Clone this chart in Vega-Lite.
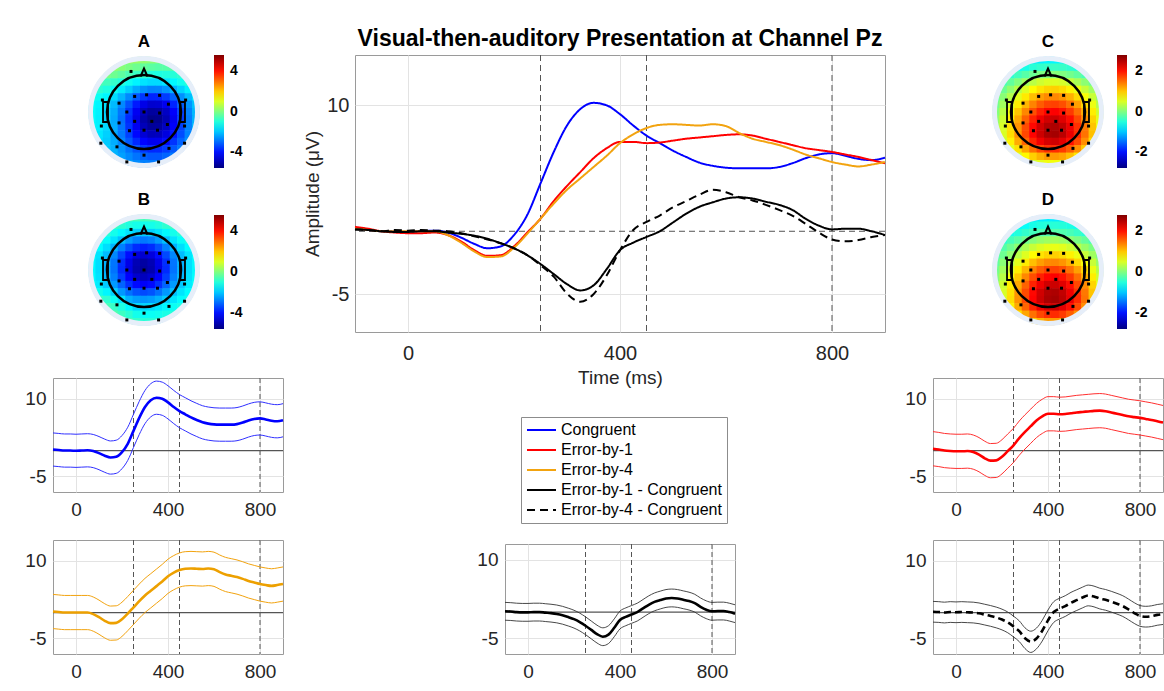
{
"$schema":"https://vega.github.io/schema/vega-lite/v6.json",
"background":"white",
"padding":{"left":24,"top":27,"right":0,"bottom":0},
"config":{"font":"Liberation Sans","view":{"stroke":"#9a9a9a","strokeWidth":1},
"axis":{"labelFontSize":19,"labelColor":"#262626","ticks":false,"domain":false,"grid":true,"gridColor":"#e3e3e3","labelFont":"Liberation Sans","titleFont":"Liberation Sans","titleColor":"#262626","titleFontWeight":"normal"},
"title":{"font":"Liberation Sans","color":"#000"},"legend":{"labelFont":"Liberation Sans"}},
"datasets":{
"ts":[
{"t":-100,"c":0.2,"e1":0.35,"e4":0.2,"d1":0.15,"d4":0.15,"cl":-3.0,"ch":3.4,"e1l":-2.95,"e1h":3.65,"e4l":-3.1,"e4h":3.5,"d1l":-1.55,"d1h":1.85,"d4l":-1.85,"d4h":2.15},
{"t":-75,"c":0.1,"e1":0.2,"e4":0.1,"d1":0.1,"d4":0.1,"cl":-3.1,"ch":3.3,"e1l":-3.1,"e1h":3.5,"e4l":-3.2,"e4h":3.4,"d1l":-1.6,"d1h":1.8,"d4l":-1.9,"d4h":2.1},
{"t":-50,"c":0,"e1":0,"e4":0,"d1":0,"d4":0,"cl":-3.2,"ch":3.2,"e1l":-3.3,"e1h":3.3,"e4l":-3.3,"e4h":3.3,"d1l":-1.7,"d1h":1.7,"d4l":-2,"d4h":2},
{"t":-25,"c":0,"e1":-0.1,"e4":0,"d1":-0.05,"d4":0.1,"cl":-3.2,"ch":3.2,"e1l":-3.4,"e1h":3.2,"e4l":-3.3,"e4h":3.3,"d1l":-1.75,"d1h":1.65,"d4l":-1.9,"d4h":2.1},
{"t":0,"c":-0.05,"e1":-0.15,"e4":0,"d1":-0.05,"d4":0.05,"cl":-3.25,"ch":3.15,"e1l":-3.45,"e1h":3.15,"e4l":-3.3,"e4h":3.3,"d1l":-1.75,"d1h":1.65,"d4l":-1.95,"d4h":2.05},
{"t":25,"c":0,"e1":-0.15,"e4":0,"d1":0,"d4":0.1,"cl":-3.2,"ch":3.2,"e1l":-3.45,"e1h":3.15,"e4l":-3.3,"e4h":3.3,"d1l":-1.7,"d1h":1.7,"d4l":-1.9,"d4h":2.1},
{"t":50,"c":0.05,"e1":-0.1,"e4":0,"d1":0,"d4":0.05,"cl":-3.15,"ch":3.25,"e1l":-3.4,"e1h":3.2,"e4l":-3.3,"e4h":3.3,"d1l":-1.7,"d1h":1.7,"d4l":-1.95,"d4h":2.05},
{"t":75,"c":-0.1,"e1":-0.3,"e4":-0.3,"d1":-0.1,"d4":0,"cl":-3.3,"ch":3.1,"e1l":-3.6,"e1h":3.0,"e4l":-3.6,"e4h":3.0,"d1l":-1.8,"d1h":1.6,"d4l":-2,"d4h":2},
{"t":100,"c":-0.5,"e1":-0.8,"e4":-0.9,"d1":-0.2,"d4":-0.15,"cl":-3.7,"ch":2.7,"e1l":-4.1,"e1h":2.5,"e4l":-4.2,"e4h":2.4,"d1l":-1.9,"d1h":1.5,"d4l":-2.15,"d4h":1.85},
{"t":125,"c":-1.0,"e1":-1.5,"e4":-1.6,"d1":-0.35,"d4":-0.4,"cl":-4.2,"ch":2.2,"e1l":-4.8,"e1h":1.8,"e4l":-4.9,"e4h":1.7,"d1l":-2.05,"d1h":1.35,"d4l":-2.4,"d4h":1.6},
{"t":150,"c":-1.35,"e1":-1.95,"e4":-2.05,"d1":-0.6,"d4":-0.65,"cl":-4.55,"ch":1.85,"e1l":-5.25,"e1h":1.35,"e4l":-5.35,"e4h":1.25,"d1l":-2.3,"d1h":1.1,"d4l":-2.65,"d4h":1.35},
{"t":175,"c":-1.2,"e1":-1.9,"e4":-2.0,"d1":-0.95,"d4":-0.95,"cl":-4.4,"ch":2.0,"e1l":-5.2,"e1h":1.4,"e4l":-5.3,"e4h":1.3,"d1l":-2.65,"d1h":0.75,"d4l":-2.95,"d4h":1.05},
{"t":200,"c":-0.3,"e1":-1.2,"e4":-1.3,"d1":-1.35,"d4":-1.35,"cl":-3.5,"ch":2.9,"e1l":-4.5,"e1h":2.1,"e4l":-4.6,"e4h":2.0,"d1l":-3.05,"d1h":0.35,"d4l":-3.35,"d4h":0.65},
{"t":225,"c":1.3,"e1":-0.1,"e4":-0.2,"d1":-1.9,"d4":-1.9,"cl":-1.9,"ch":4.5,"e1l":-3.4,"e1h":3.2,"e4l":-3.5,"e4h":3.1,"d1l":-3.6,"d1h":-0.2,"d4l":-3.9,"d4h":0.1},
{"t":250,"c":3.8,"e1":1.0,"e4":1.0,"d1":-2.6,"d4":-2.7,"cl":0.6,"ch":7.0,"e1l":-2.3,"e1h":4.3,"e4l":-2.3,"e4h":4.3,"d1l":-4.3,"d1h":-0.9,"d4l":-4.7,"d4h":-0.7},
{"t":275,"c":6.3,"e1":2.4,"e4":2.2,"d1":-3.4,"d4":-3.6,"cl":3.1,"ch":9.5,"e1l":-0.9,"e1h":5.7,"e4l":-1.1,"e4h":5.5,"d1l":-5.1,"d1h":-1.7,"d4l":-5.6,"d4h":-1.6},
{"t":300,"c":8.4,"e1":3.6,"e4":3.3,"d1":-4.2,"d4":-4.95,"cl":5.2,"ch":11.6,"e1l":0.3,"e1h":6.9,"e4l":0.0,"e4h":6.6,"d1l":-5.9,"d1h":-2.5,"d4l":-6.95,"d4h":-2.95},
{"t":325,"c":9.7,"e1":4.7,"e4":4.2,"d1":-4.7,"d4":-5.6,"cl":6.5,"ch":12.9,"e1l":1.4,"e1h":8.0,"e4l":0.9,"e4h":7.5,"d1l":-6.4,"d1h":-3.0,"d4l":-7.7,"d4h":-3.6},
{"t":350,"c":10.2,"e1":5.8,"e4":5.1,"d1":-4.3,"d4":-5.0,"cl":7.0,"ch":13.4,"e1l":2.5,"e1h":9.1,"e4l":1.8,"e4h":8.4,"d1l":-6.0,"d1h":-2.6,"d4l":-7.0,"d4h":-3.0},
{"t":375,"c":10.0,"e1":6.6,"e4":6.0,"d1":-3.0,"d4":-3.5,"cl":6.8,"ch":13.2,"e1l":3.3,"e1h":9.9,"e4l":2.7,"e4h":9.3,"d1l":-4.7,"d1h":-1.3,"d4l":-5.5,"d4h":-1.5},
{"t":400,"c":9.3,"e1":7.1,"e4":7.0,"d1":-1.5,"d4":-1.5,"cl":6.1,"ch":12.5,"e1l":3.8,"e1h":10.4,"e4l":3.7,"e4h":10.3,"d1l":-3.2,"d1h":0.2,"d4l":-3.5,"d4h":0.5},
{"t":425,"c":8.4,"e1":7.1,"e4":7.7,"d1":-0.9,"d4":0.1,"cl":5.2,"ch":11.6,"e1l":3.8,"e1h":10.4,"e4l":4.4,"e4h":11.0,"d1l":-2.6,"d1h":0.8,"d4l":-1.9,"d4h":2.1},
{"t":450,"c":7.6,"e1":7.0,"e4":8.2,"d1":-0.45,"d4":0.75,"cl":4.4,"ch":10.8,"e1l":3.7,"e1h":10.3,"e4l":4.9,"e4h":11.5,"d1l":-2.15,"d1h":1.25,"d4l":-1.25,"d4h":2.75},
{"t":475,"c":7.0,"e1":7.05,"e4":8.45,"d1":0.0,"d4":1.25,"cl":3.8,"ch":10.2,"e1l":3.75,"e1h":10.35,"e4l":5.15,"e4h":11.75,"d1l":-1.7,"d1h":1.7,"d4l":-0.75,"d4h":3.25},
{"t":500,"c":6.4,"e1":7.2,"e4":8.5,"d1":0.7,"d4":1.9,"cl":3.2,"ch":9.6,"e1l":3.9,"e1h":10.5,"e4l":5.2,"e4h":11.8,"d1l":-1.0,"d1h":2.4,"d4l":-0.1,"d4h":3.9},
{"t":525,"c":5.9,"e1":7.35,"e4":8.45,"d1":1.4,"d4":2.4,"cl":2.7,"ch":9.1,"e1l":4.05,"e1h":10.65,"e4l":5.15,"e4h":11.75,"d1l":-0.3,"d1h":3.1,"d4l":0.4,"d4h":4.4},
{"t":550,"c":5.45,"e1":7.45,"e4":8.4,"d1":1.95,"d4":2.9,"cl":2.25,"ch":8.65,"e1l":4.15,"e1h":10.75,"e4l":5.1,"e4h":11.7,"d1l":0.25,"d1h":3.65,"d4l":0.9,"d4h":4.9},
{"t":575,"c":5.2,"e1":7.55,"e4":8.5,"d1":2.3,"d4":3.3,"cl":2.0,"ch":8.4,"e1l":4.25,"e1h":10.85,"e4l":5.2,"e4h":11.8,"d1l":0.6,"d1h":4.0,"d4l":1.3,"d4h":5.3},
{"t":600,"c":5.05,"e1":7.65,"e4":8.35,"d1":2.6,"d4":3.1,"cl":1.85,"ch":8.25,"e1l":4.35,"e1h":10.95,"e4l":5.05,"e4h":11.65,"d1l":0.9,"d1h":4.3,"d4l":1.1,"d4h":5.1},
{"t":625,"c":5.0,"e1":7.7,"e4":7.8,"d1":2.7,"d4":2.7,"cl":1.8,"ch":8.2,"e1l":4.4,"e1h":11.0,"e4l":4.5,"e4h":11.1,"d1l":1.0,"d1h":4.4,"d4l":0.7,"d4h":4.7},
{"t":650,"c":5.0,"e1":7.6,"e4":7.35,"d1":2.6,"d4":2.45,"cl":1.8,"ch":8.2,"e1l":4.3,"e1h":10.9,"e4l":4.05,"e4h":10.65,"d1l":0.9,"d1h":4.3,"d4l":0.45,"d4h":4.45},
{"t":675,"c":5.0,"e1":7.35,"e4":7.1,"d1":2.35,"d4":2.1,"cl":1.8,"ch":8.2,"e1l":4.05,"e1h":10.65,"e4l":3.8,"e4h":10.4,"d1l":0.65,"d1h":4.05,"d4l":0.1,"d4h":4.1},
{"t":700,"c":5.1,"e1":7.1,"e4":6.85,"d1":2.1,"d4":1.7,"cl":1.9,"ch":8.3,"e1l":3.8,"e1h":10.4,"e4l":3.55,"e4h":10.15,"d1l":0.4,"d1h":3.8,"d4l":-0.3,"d4h":3.7},
{"t":725,"c":5.4,"e1":6.85,"e4":6.5,"d1":1.7,"d4":1.25,"cl":2.2,"ch":8.6,"e1l":3.55,"e1h":10.15,"e4l":3.2,"e4h":9.8,"d1l":0.0,"d1h":3.4,"d4l":-0.75,"d4h":3.25},
{"t":750,"c":5.8,"e1":6.6,"e4":6.1,"d1":1.0,"d4":0.6,"cl":2.6,"ch":9.0,"e1l":3.3,"e1h":9.9,"e4l":2.8,"e4h":9.4,"d1l":-0.7,"d1h":2.7,"d4l":-1.4,"d4h":2.6},
{"t":775,"c":6.1,"e1":6.45,"e4":5.8,"d1":0.45,"d4":-0.1,"cl":2.9,"ch":9.3,"e1l":3.15,"e1h":9.75,"e4l":2.5,"e4h":9.1,"d1l":-1.25,"d1h":2.15,"d4l":-2.1,"d4h":1.9},
{"t":800,"c":6.2,"e1":6.3,"e4":5.5,"d1":0.15,"d4":-0.65,"cl":3.0,"ch":9.4,"e1l":3.0,"e1h":9.6,"e4l":2.2,"e4h":8.8,"d1l":-1.55,"d1h":1.85,"d4l":-2.65,"d4h":1.35},
{"t":825,"c":6.0,"e1":6.1,"e4":5.3,"d1":0.2,"d4":-0.8,"cl":2.8,"ch":9.2,"e1l":2.8,"e1h":9.4,"e4l":2.0,"e4h":8.6,"d1l":-1.5,"d1h":1.9,"d4l":-2.8,"d4h":1.2},
{"t":850,"c":5.75,"e1":5.9,"e4":5.15,"d1":0.2,"d4":-0.7,"cl":2.55,"ch":8.95,"e1l":2.6,"e1h":9.2,"e4l":1.85,"e4h":8.45,"d1l":-1.5,"d1h":1.9,"d4l":-2.7,"d4h":1.3},
{"t":875,"c":5.65,"e1":5.65,"e4":5.3,"d1":0.0,"d4":-0.45,"cl":2.45,"ch":8.85,"e1l":2.35,"e1h":8.95,"e4l":2.0,"e4h":8.6,"d1l":-1.7,"d1h":1.7,"d4l":-2.45,"d4h":1.55},
{"t":900,"c":5.85,"e1":5.4,"e4":5.5,"d1":-0.3,"d4":-0.3,"cl":2.65,"ch":9.05,"e1l":2.1,"e1h":8.7,"e4l":2.2,"e4h":8.8,"d1l":-2.0,"d1h":1.4,"d4l":-2.3,"d4h":1.7}
],
"events":[{"t":250},{"t":450},{"t":800}],
"zero":[{"v":0}],
"names":[{"k":"c","series":"Congruent"},{"k":"e1","series":"Error-by-1"},{"k":"e4","series":"Error-by-4"},{"k":"d1","series":"Error-by-1 - Congruent"},{"k":"d4","series":"Error-by-4 - Congruent"}],
"head":[{"x":0,"y":0}],
"nose":[{"x":0,"y":5.45}],
"ears":[{"x":-5.18,"y":0},{"x":5.18,"y":0}],
"labA":[{"x":0,"y":8.75,"label":"A"}],
"labB":[{"x":0,"y":8.75,"label":"B"}],
"labC":[{"x":0,"y":8.75,"label":"C"}],
"labD":[{"x":0,"y":8.75,"label":"D"}],
"elec":[{"x":-1.75,"y":5.46},{"x":-5.6,"y":1.61},{"x":-3.36,"y":1.19},{"x":-1.26,"y":2.1},{"x":0.35,"y":2.31},{"x":2.1,"y":2.24},{"x":3.29,"y":1.05},{"x":5.6,"y":1.61},{"x":-2.31,"y":0},{"x":0,"y":0},{"x":2.1,"y":-0.14},{"x":-5.74,"y":-1.89},{"x":-3.36,"y":-1.47},{"x":-1.26,"y":-1.26},{"x":1.05,"y":-1.26},{"x":3.15,"y":-1.68},{"x":5.46,"y":-1.89},{"x":-1.96,"y":-2.52},{"x":0,"y":-2.45},{"x":1.82,"y":-2.45},{"x":-5.81,"y":-4.2},{"x":-3.64,"y":-4.69},{"x":3.36,"y":-4.9},{"x":5.46,"y":-4.2},{"x":0,"y":-5.81},{"x":-2.31,"y":-6.72},{"x":1.96,"y":-6.72}],
"topoA":[
{"y":7,"x":[-2,-1,0,1,2],"v":[0.37,0.28,0.19,0.13,0.08]},
{"y":6,"x":[-4,-3,-2,-1,0,1,2,3,4],"v":[0.19,0.07,-0.06,-0.19,-0.3,-0.39,-0.44,-0.44,-0.43]},
{"y":5,"x":[-5,-4,-3,-2,-1,0,1,2,3,4,5],"v":[-0.05,-0.19,-0.36,-0.56,-0.75,-0.92,-1.05,-1.09,-1.05,-0.97,-0.88]},
{"y":4,"x":[-6,-5,-4,-3,-2,-1,0,1,2,3,4,5,6],"v":[-0.57,-0.67,-0.82,-1.02,-1.27,-1.51,-1.7,-1.8,-1.79,-1.67,-1.46,-1.22,-0.98]},
{"y":3,"x":[-6,-5,-4,-3,-2,-1,0,1,2,3,4,5,6],"v":[-0.91,-1.06,-1.28,-1.6,-1.95,-2.31,-2.61,-2.77,-2.75,-2.56,-2.25,-1.87,-1.53]},
{"y":2,"x":[-7,-6,-5,-4,-3,-2,-1,0,1,2,3,4,5,6,7],"v":[-1.14,-1.27,-1.48,-1.78,-2.2,-2.7,-3.2,-3.61,-3.83,-3.81,-3.54,-3.11,-2.6,-2.11,-1.71]},
{"y":1,"x":[-7,-6,-5,-4,-3,-2,-1,0,1,2,3,4,5,6,7],"v":[-1.34,-1.5,-1.75,-2.15,-2.68,-3.3,-3.93,-4.45,-4.73,-4.69,-4.37,-3.82,-3.18,-2.56,-2.06]},
{"y":0,"x":[-7,-6,-5,-4,-3,-2,-1,0,1,2,3,4,5,6,7],"v":[-1.37,-1.54,-1.84,-2.29,-2.9,-3.62,-4.34,-4.94,-5.26,-5.22,-4.84,-4.23,-3.48,-2.76,-2.18]},
{"y":-1,"x":[-7,-6,-5,-4,-3,-2,-1,0,1,2,3,4,5,6,7],"v":[-1.37,-1.56,-1.87,-2.34,-2.99,-3.75,-4.5,-5.14,-5.47,-5.43,-5.03,-4.36,-3.6,-2.84,-2.23]},
{"y":-2,"x":[-7,-6,-5,-4,-3,-2,-1,0,1,2,3,4,5,6,7],"v":[-1.37,-1.54,-1.84,-2.3,-2.92,-3.65,-4.37,-4.97,-5.3,-5.26,-4.88,-4.25,-3.5,-2.78,-2.19]},
{"y":-3,"x":[-6,-5,-4,-3,-2,-1,0,1,2,3,4,5,6],"v":[-1.65,-1.91,-2.32,-2.86,-3.49,-4.13,-4.65,-4.94,-4.9,-4.56,-4.01,-3.37,-2.74]},
{"y":-4,"x":[-6,-5,-4,-3,-2,-1,0,1,2,3,4,5,6],"v":[-1.75,-1.97,-2.29,-2.72,-3.23,-3.75,-4.17,-4.39,-4.36,-4.1,-3.64,-3.12,-2.62]},
{"y":-5,"x":[-5,-4,-3,-2,-1,0,1,2,3,4,5],"v":[-2.0,-2.23,-2.56,-2.93,-3.3,-3.61,-3.78,-3.76,-3.56,-3.23,-2.85]},
{"y":-6,"x":[-4,-3,-2,-1,0,1,2,3,4],"v":[-2.22,-2.43,-2.68,-2.93,-3.14,-3.25,-3.24,-3.1,-2.88]},
{"y":-7,"x":[-2,-1,0,1,2],"v":[-2.51,-2.67,-2.8,-2.86,-2.85]}
],
"topoB":[
{"y":7,"x":[-2,-1,0,1,2],"v":[-0.55,-0.62,-0.64,-0.62,-0.55]},
{"y":6,"x":[-4,-3,-2,-1,0,1,2,3,4],"v":[-0.74,-0.9,-1.05,-1.17,-1.21,-1.17,-1.05,-0.9,-0.74]},
{"y":5,"x":[-5,-4,-3,-2,-1,0,1,2,3,4,5],"v":[-0.96,-1.19,-1.45,-1.7,-1.89,-1.96,-1.89,-1.7,-1.45,-1.19,-0.96]},
{"y":4,"x":[-6,-5,-4,-3,-2,-1,0,1,2,3,4,5,6],"v":[-1.09,-1.35,-1.69,-2.09,-2.48,-2.77,-2.88,-2.77,-2.48,-2.09,-1.69,-1.35,-1.09]},
{"y":3,"x":[-6,-5,-4,-3,-2,-1,0,1,2,3,4,5,6],"v":[-1.4,-1.75,-2.23,-2.79,-3.32,-3.73,-3.87,-3.73,-3.32,-2.79,-2.23,-1.75,-1.4]},
{"y":2,"x":[-7,-6,-5,-4,-3,-2,-1,0,1,2,3,4,5,6,7],"v":[-1.4,-1.68,-2.12,-2.71,-3.41,-4.07,-4.57,-4.74,-4.57,-4.07,-3.41,-2.71,-2.12,-1.68,-1.4]},
{"y":1,"x":[-7,-6,-5,-4,-3,-2,-1,0,1,2,3,4,5,6,7],"v":[-1.44,-1.75,-2.24,-2.91,-3.7,-4.44,-5.01,-5.21,-5.01,-4.44,-3.7,-2.91,-2.24,-1.75,-1.44]},
{"y":0,"x":[-7,-6,-5,-4,-3,-2,-1,0,1,2,3,4,5,6,7],"v":[-1.44,-1.76,-2.26,-2.94,-3.74,-4.5,-5.07,-5.27,-5.07,-4.5,-3.74,-2.94,-2.26,-1.76,-1.44]},
{"y":-1,"x":[-7,-6,-5,-4,-3,-2,-1,0,1,2,3,4,5,6,7],"v":[-1.41,-1.71,-2.17,-2.79,-3.52,-4.22,-4.74,-4.93,-4.74,-4.22,-3.52,-2.79,-2.17,-1.71,-1.41]},
{"y":-2,"x":[-7,-6,-5,-4,-3,-2,-1,0,1,2,3,4,5,6,7],"v":[-1.36,-1.6,-1.98,-2.5,-3.1,-3.68,-4.11,-4.27,-4.11,-3.68,-3.1,-2.5,-1.98,-1.6,-1.36]},
{"y":-3,"x":[-6,-5,-4,-3,-2,-1,0,1,2,3,4,5,6],"v":[-1.21,-1.49,-1.88,-2.53,-2.96,-3.29,-3.41,-3.29,-2.96,-2.53,-2.08,-1.69,-1.41]},
{"y":-4,"x":[-6,-5,-4,-3,-2,-1,0,1,2,3,4,5,6],"v":[-0.71,-0.9,-1.26,-1.66,-2.25,-2.47,-2.54,-2.47,-2.25,-1.96,-1.66,-1.4,-1.21]},
{"y":-5,"x":[-5,-4,-3,-2,-1,0,1,2,3,4,5],"v":[-0.63,-0.79,-1.08,-1.45,-1.79,-1.84,-1.79,-1.65,-1.48,-1.29,-1.13]},
{"y":-6,"x":[-4,-3,-2,-1,0,1,2,3,4],"v":[-0.52,-0.72,-0.92,-1.19,-1.32,-1.29,-1.22,-1.12,-1.02]},
{"y":-7,"x":[-2,-1,0,1,2],"v":[-0.62,-0.81,-0.97,-0.96,-0.92]}
],
"topoC":[
{"y":7,"x":[-2,-1,0,1,2],"v":[-0.81,-0.77,-0.74,-0.74,-0.75]},
{"y":6,"x":[-4,-3,-2,-1,0,1,2,3,4],"v":[-0.65,-0.56,-0.48,-0.42,-0.39,-0.38,-0.4,-0.45,-0.53]},
{"y":5,"x":[-5,-4,-3,-2,-1,0,1,2,3,4,5],"v":[-0.46,-0.34,-0.22,-0.11,-0.02,0.03,0.04,0.0,-0.07,-0.17,-0.29]},
{"y":4,"x":[-6,-5,-4,-3,-2,-1,0,1,2,3,4,5,6],"v":[-0.31,-0.16,0.01,0.17,0.32,0.43,0.5,0.51,0.47,0.37,0.23,0.07,-0.09]},
{"y":3,"x":[-6,-5,-4,-3,-2,-1,0,1,2,3,4,5,6],"v":[-0.1,0.09,0.31,0.52,0.71,0.85,0.94,0.96,0.9,0.77,0.6,0.39,0.18]},
{"y":2,"x":[-7,-6,-5,-4,-3,-2,-1,0,1,2,3,4,5,6,7],"v":[-0.16,0.05,0.29,0.55,0.81,1.05,1.23,1.34,1.36,1.29,1.13,0.91,0.66,0.39,0.14]},
{"y":1,"x":[-7,-6,-5,-4,-3,-2,-1,0,1,2,3,4,5,6,7],"v":[-0.06,0.19,0.48,0.79,1.1,1.38,1.6,1.73,1.75,1.67,1.48,1.22,0.92,0.6,0.3]},
{"y":0,"x":[-7,-6,-5,-4,-3,-2,-1,0,1,2,3,4,5,6,7],"v":[0.03,0.32,0.65,1.01,1.36,1.68,1.93,2.08,2.11,2.01,1.79,1.5,1.15,0.79,0.44]},
{"y":-1,"x":[-7,-6,-5,-4,-3,-2,-1,0,1,2,3,4,5,6,7],"v":[0.11,0.42,0.78,1.17,1.56,1.92,2.19,2.36,2.38,2.27,2.04,1.71,1.33,0.93,0.56]},
{"y":-2,"x":[-7,-6,-5,-4,-3,-2,-1,0,1,2,3,4,5,6,7],"v":[0.15,0.48,0.86,1.28,1.69,2.06,2.35,2.52,2.55,2.44,2.19,1.84,1.44,1.02,0.62]},
{"y":-3,"x":[-6,-5,-4,-3,-2,-1,0,1,2,3,4,5,6],"v":[0.49,0.88,1.3,1.71,2.09,2.38,2.56,2.59,2.47,2.22,1.87,1.47,1.04]},
{"y":-4,"x":[-6,-5,-4,-3,-2,-1,0,1,2,3,4,5,6],"v":[0.41,0.77,1.16,1.55,1.9,2.17,2.33,2.36,2.25,2.02,1.7,1.32,0.92]},
{"y":-5,"x":[-5,-4,-3,-2,-1,0,1,2,3,4,5],"v":[0.53,0.86,1.19,1.48,1.71,1.85,1.87,1.78,1.59,1.31,1.0]},
{"y":-6,"x":[-4,-3,-2,-1,0,1,2,3,4],"v":[0.49,0.73,0.96,1.13,1.24,1.25,1.19,1.04,0.83]},
{"y":-7,"x":[-2,-1,0,1,2],"v":[0.44,0.56,0.63,0.64,0.59]}
],
"topoD":[
{"y":7,"x":[-2,-1,0,1,2],"v":[-0.85,-0.8,-0.78,-0.8,-0.85]},
{"y":6,"x":[-4,-3,-2,-1,0,1,2,3,4],"v":[-0.75,-0.66,-0.58,-0.52,-0.49,-0.48,-0.5,-0.55,-0.63]},
{"y":5,"x":[-5,-4,-3,-2,-1,0,1,2,3,4,5],"v":[-0.6,-0.51,-0.42,-0.34,-0.28,-0.25,-0.24,-0.26,-0.31,-0.39,-0.48]},
{"y":4,"x":[-6,-5,-4,-3,-2,-1,0,1,2,3,4,5,6],"v":[-0.45,-0.32,-0.2,-0.08,0.03,0.12,0.17,0.18,0.14,0.07,-0.03,-0.15,-0.3]},
{"y":3,"x":[-6,-5,-4,-3,-2,-1,0,1,2,3,4,5,6],"v":[-0.24,-0.09,0.08,0.24,0.39,0.5,0.57,0.58,0.54,0.44,0.3,0.14,-0.02]},
{"y":2,"x":[-7,-6,-5,-4,-3,-2,-1,0,1,2,3,4,5,6,7],"v":[-0.3,-0.1,0.09,0.31,0.52,0.71,0.85,0.94,0.96,0.9,0.77,0.6,0.39,0.18,-0.02]},
{"y":1,"x":[-7,-6,-5,-4,-3,-2,-1,0,1,2,3,4,5,6,7],"v":[-0.16,0.05,0.29,0.55,0.81,1.05,1.23,1.34,1.36,1.29,1.13,0.91,0.66,0.39,0.14]},
{"y":0,"x":[-7,-6,-5,-4,-3,-2,-1,0,1,2,3,4,5,6,7],"v":[-0.06,0.19,0.48,0.79,1.1,1.38,1.6,1.73,1.75,1.67,1.48,1.22,0.92,0.6,0.3]},
{"y":-1,"x":[-7,-6,-5,-4,-3,-2,-1,0,1,2,3,4,5,6,7],"v":[0.03,0.32,0.65,1.01,1.36,1.68,1.93,2.08,2.11,2.01,1.79,1.5,1.15,0.79,0.44]},
{"y":-2,"x":[-7,-6,-5,-4,-3,-2,-1,0,1,2,3,4,5,6,7],"v":[0.11,0.42,0.78,1.17,1.56,1.92,2.19,2.36,2.38,2.27,2.04,1.71,1.33,0.93,0.56]},
{"y":-3,"x":[-6,-5,-4,-3,-2,-1,0,1,2,3,4,5,6],"v":[0.48,0.86,1.28,1.69,2.06,2.35,2.52,2.55,2.44,2.19,1.84,1.44,1.02]},
{"y":-4,"x":[-6,-5,-4,-3,-2,-1,0,1,2,3,4,5,6],"v":[0.49,0.88,1.3,1.71,2.09,2.38,2.56,2.59,2.47,2.22,1.87,1.47,1.04]},
{"y":-5,"x":[-5,-4,-3,-2,-1,0,1,2,3,4,5],"v":[0.77,1.16,1.55,1.9,2.17,2.33,2.36,2.25,2.02,1.7,1.32]},
{"y":-6,"x":[-4,-3,-2,-1,0,1,2,3,4],"v":[0.86,1.19,1.48,1.71,1.85,1.87,1.78,1.59,1.31]},
{"y":-7,"x":[-2,-1,0,1,2],"v":[0.96,1.13,1.24,1.25,1.19]}
]
},
"spacing":14,
"resolve":{"scale":{"color":"independent","strokeDash":"independent"},"legend":{"color":"independent","strokeDash":"independent"}},
"hconcat":[
{"spacing":18,
"resolve":{"scale":{"color":"independent"},"legend":{"color":"independent"}},
"vconcat":[
{"spacing":5,
"resolve":{"scale":{"color":"independent"},"legend":{"color":"independent"}},
"vconcat":[
{"width":230,"height":122,"view":{"stroke":null},
"layer":[
{"data":{"name":"topoA"},"transform":[{"flatten":["x","v"]}],"mark":{"type":"square","size":64,"filled":true,"opacity":1},
"encoding":{"x":{"field":"x","type":"quantitative","scale":{"domain":[-12.25,18.71],"nice":false,"zero":false},"axis":null},"y":{"field":"y","type":"quantitative","scale":{"domain":[-8.75,7.673],"nice":false,"zero":false},"axis":null},
"color":{"field":"v","type":"quantitative","scale":{"domain":[-5.6,-4.2,-1.4,1.4,4.2,5.6],"range":["#00007f","#0000ff","#00ffff","#ffff00","#ff0000","#7f0000"],"interpolate":"rgb"},
"legend":{"title":null,"orient":"none","legendX":161,"legendY":0,"direction":"vertical","gradientLength":113,"gradientThickness":10,"values":[-4,0,4],"labelFontSize":14,"labelFontWeight":"bold","labelColor":"#000","labelOffset":6,"labelExpr":"datum.value","labelOverlap":false,"gradientStrokeWidth":0}}}},
{"data":{"name":"head"},"mark":{"type":"point","shape":"circle","size":13924,"filled":false,"stroke":"#ffffff","strokeWidth":7,"opacity":1},"encoding":{"x":{"field":"x","type":"quantitative","axis":null},"y":{"field":"y","type":"quantitative","axis":null}}},
{"data":{"name":"head"},"mark":{"type":"point","shape":"circle","size":11449,"filled":false,"stroke":"#e6eef9","strokeWidth":5,"opacity":1},"encoding":{"x":{"field":"x","type":"quantitative","axis":null},"y":{"field":"y","type":"quantitative","axis":null}}},
{"data":{"name":"head"},"mark":{"type":"point","shape":"circle","size":5476,"filled":false,"stroke":"#000","strokeWidth":2.5,"opacity":1},"encoding":{"x":{"field":"x","type":"quantitative","axis":null},"y":{"field":"y","type":"quantitative","axis":null}}},
{"data":{"name":"nose"},"mark":{"type":"point","shape":"M -0.7 1 L 0 -0.6 L 0.7 1","size":100,"filled":false,"stroke":"#000","strokeWidth":2,"opacity":1},"encoding":{"x":{"field":"x","type":"quantitative","axis":null},"y":{"field":"y","type":"quantitative","axis":null}}},
{"data":{"name":"ears"},"mark":{"type":"point","shape":"M -0.25 -1 L 0.25 -1 L 0.25 1 L -0.25 1 Z","size":400,"filled":false,"stroke":"#000","strokeWidth":1.8,"opacity":1},"encoding":{"x":{"field":"x","type":"quantitative","axis":null},"y":{"field":"y","type":"quantitative","axis":null}}},
{"data":{"name":"elec"},"mark":{"type":"square","size":9,"filled":true,"color":"#000","opacity":1},"encoding":{"x":{"field":"x","type":"quantitative","axis":null},"y":{"field":"y","type":"quantitative","axis":null}}},
{"data":{"name":"labA"},"mark":{"type":"text","fontSize":17,"fontWeight":"bold","baseline":"alphabetic","align":"center","color":"#000"},"encoding":{"x":{"field":"x","type":"quantitative","axis":null},"y":{"field":"y","type":"quantitative","axis":null},"text":{"field":"label"}}}
]},
{"width":230,"height":146,"view":{"stroke":null},
"layer":[
{"data":{"name":"topoB"},"transform":[{"flatten":["x","v"]}],"mark":{"type":"square","size":64,"filled":true,"opacity":1},
"encoding":{"x":{"field":"x","type":"quantitative","scale":{"domain":[-12.25,18.71],"nice":false,"zero":false},"axis":null},"y":{"field":"y","type":"quantitative","scale":{"domain":[-11.98,7.673],"nice":false,"zero":false},"axis":null},
"color":{"field":"v","type":"quantitative","scale":{"domain":[-5.6,-4.2,-1.4,1.4,4.2,5.6],"range":["#00007f","#0000ff","#00ffff","#ffff00","#ff0000","#7f0000"],"interpolate":"rgb"},
"legend":{"title":null,"orient":"none","legendX":161,"legendY":2,"direction":"vertical","gradientLength":114,"gradientThickness":10,"values":[-4,0,4],"labelFontSize":14,"labelFontWeight":"bold","labelColor":"#000","labelOffset":6,"labelExpr":"datum.value","labelOverlap":false,"gradientStrokeWidth":0}}}},
{"data":{"name":"head"},"mark":{"type":"point","shape":"circle","size":13924,"filled":false,"stroke":"#ffffff","strokeWidth":7,"opacity":1},"encoding":{"x":{"field":"x","type":"quantitative","axis":null},"y":{"field":"y","type":"quantitative","axis":null}}},
{"data":{"name":"head"},"mark":{"type":"point","shape":"circle","size":11449,"filled":false,"stroke":"#e6eef9","strokeWidth":5,"opacity":1},"encoding":{"x":{"field":"x","type":"quantitative","axis":null},"y":{"field":"y","type":"quantitative","axis":null}}},
{"data":{"name":"head"},"mark":{"type":"point","shape":"circle","size":5476,"filled":false,"stroke":"#000","strokeWidth":2.5,"opacity":1},"encoding":{"x":{"field":"x","type":"quantitative","axis":null},"y":{"field":"y","type":"quantitative","axis":null}}},
{"data":{"name":"nose"},"mark":{"type":"point","shape":"M -0.7 1 L 0 -0.6 L 0.7 1","size":100,"filled":false,"stroke":"#000","strokeWidth":2,"opacity":1},"encoding":{"x":{"field":"x","type":"quantitative","axis":null},"y":{"field":"y","type":"quantitative","axis":null}}},
{"data":{"name":"ears"},"mark":{"type":"point","shape":"M -0.25 -1 L 0.25 -1 L 0.25 1 L -0.25 1 Z","size":400,"filled":false,"stroke":"#000","strokeWidth":1.8,"opacity":1},"encoding":{"x":{"field":"x","type":"quantitative","axis":null},"y":{"field":"y","type":"quantitative","axis":null}}},
{"data":{"name":"elec"},"mark":{"type":"square","size":9,"filled":true,"color":"#000","opacity":1},"encoding":{"x":{"field":"x","type":"quantitative","axis":null},"y":{"field":"y","type":"quantitative","axis":null}}},
{"data":{"name":"labB"},"mark":{"type":"text","fontSize":17,"fontWeight":"bold","baseline":"alphabetic","align":"center","color":"#000"},"encoding":{"x":{"field":"x","type":"quantitative","axis":null},"y":{"field":"y","type":"quantitative","axis":null},"text":{"field":"label"}}}
]}
]},
{"spacing":19,
"vconcat":[
{"width":230,"height":114,"data":{"name":"ts"},
"layer":[
{"data":{"name":"events"},"mark":{"type":"rule","color":"#555","strokeDash":[5,3],"strokeWidth":1},"encoding":{"x":{"field":"t","type":"quantitative","scale":{"domain":[-100,900],"nice":false,"zero":false},"axis":{"values":[0,400,800],"title":null,"labelPadding":8}}}},
{"data":{"name":"zero"},"mark":{"type":"rule","color":"#555","strokeWidth":1.2},"encoding":{"y":{"field":"v","type":"quantitative","scale":{"domain":[-8,14],"nice":false,"zero":false},"axis":{"values":[-5,10],"title":null,"labelPadding":7,"labelExpr":"datum.value"}}}},
{"mark":{"type":"line","color":"#3030ff","strokeWidth":1,"interpolate":"monotone"},"encoding":{"x":{"field":"t","type":"quantitative","title":null},"y":{"field":"ch","type":"quantitative","title":null}}},
{"mark":{"type":"line","color":"#3030ff","strokeWidth":1,"interpolate":"monotone"},"encoding":{"x":{"field":"t","type":"quantitative","title":null},"y":{"field":"cl","type":"quantitative","title":null}}},
{"mark":{"type":"line","color":"#0000ff","strokeWidth":2.6,"interpolate":"monotone"},"encoding":{"x":{"field":"t","type":"quantitative","title":null},"y":{"field":"c","type":"quantitative","title":null}}}
]},
{"width":230,"height":114,"data":{"name":"ts"},
"layer":[
{"data":{"name":"events"},"mark":{"type":"rule","color":"#555","strokeDash":[5,3],"strokeWidth":1},"encoding":{"x":{"field":"t","type":"quantitative","scale":{"domain":[-100,900],"nice":false,"zero":false},"axis":{"values":[0,400,800],"title":null,"labelPadding":8}}}},
{"data":{"name":"zero"},"mark":{"type":"rule","color":"#555","strokeWidth":1.2},"encoding":{"y":{"field":"v","type":"quantitative","scale":{"domain":[-8,14],"nice":false,"zero":false},"axis":{"values":[-5,10],"title":null,"labelPadding":7,"labelExpr":"datum.value"}}}},
{"mark":{"type":"line","color":"#f2a30f","strokeWidth":1,"interpolate":"monotone"},"encoding":{"x":{"field":"t","type":"quantitative","title":null},"y":{"field":"e4h","type":"quantitative","title":null}}},
{"mark":{"type":"line","color":"#f2a30f","strokeWidth":1,"interpolate":"monotone"},"encoding":{"x":{"field":"t","type":"quantitative","title":null},"y":{"field":"e4l","type":"quantitative","title":null}}},
{"mark":{"type":"line","color":"#eda000","strokeWidth":2.6,"interpolate":"monotone"},"encoding":{"x":{"field":"t","type":"quantitative","title":null},"y":{"field":"e4","type":"quantitative","title":null}}}
]}
]}
]},
{"spacing":19,
"resolve":{"scale":{"color":"independent","strokeDash":"independent"},"legend":{"color":"independent","strokeDash":"independent"}},
"vconcat":[
{"width":530,"height":277,
"title":{"text":"Visual-then-auditory Presentation at Channel Pz","fontSize":23,"fontWeight":"bold","anchor":"middle","offset":4,"color":"#000"},
"layer":[
{"data":{"name":"events"},"mark":{"type":"rule","color":"#555","strokeDash":[6,4],"strokeWidth":1},"encoding":{"x":{"field":"t","type":"quantitative","scale":{"domain":[-100,900],"nice":false,"zero":false},"axis":{"values":[0,400,800],"title":"Time (ms)","titleFontSize":19,"titlePadding":5,"labelPadding":11,"labelFontSize":20}}}},
{"data":{"name":"zero"},"mark":{"type":"rule","color":"#555","strokeDash":[6,4],"strokeWidth":1},"encoding":{"y":{"field":"v","type":"quantitative","scale":{"domain":[-8,14],"nice":false,"zero":false},"axis":{"values":[-5,10],"title":"Amplitude (μV)","titleFontSize":19,"titlePadding":4,"labelPadding":6,"labelFontSize":20,"labelExpr":"datum.value"}}}},
{"data":{"name":"ts"},"transform":[{"fold":["c","e1","e4","d1","d4"],"as":["k","v"]},{"lookup":"k","from":{"data":{"name":"names"},"key":"k","fields":["series"]}}],
"mark":{"type":"line","strokeWidth":2,"interpolate":"monotone"},
"encoding":{"x":{"field":"t","type":"quantitative","title":"Time (ms)"},"y":{"field":"v","type":"quantitative","title":"Amplitude (μV)"},
"color":{"field":"series","type":"nominal","sort":null,"scale":{"domain":["Congruent","Error-by-1","Error-by-4","Error-by-1 - Congruent","Error-by-4 - Congruent"],"range":["#0000ff","#ff0000","#f2a30f","#000000","#000000"]},
"legend":{"title":null,"orient":"none","legendX":166,"legendY":362,"symbolType":"stroke","symbolSize":841,"symbolStrokeWidth":2,"labelFontSize":16,"labelColor":"#000","labelOffset":4,"labelLimit":400,"strokeColor":"#8c8c8c","fillColor":"#ffffff","padding":5,"rowPadding":4,"clipHeight":16}},
"strokeDash":{"field":"series","type":"nominal","sort":null,"scale":{"domain":["Congruent","Error-by-1","Error-by-4","Error-by-1 - Congruent","Error-by-4 - Congruent"],"range":[[1,0],[1,0],[1,0],[1,0],[8,5]]},
"legend":{"title":null,"orient":"none","legendX":166,"legendY":362,"symbolType":"stroke","symbolSize":841,"symbolStrokeWidth":2,"labelFontSize":16,"labelColor":"#000","labelOffset":4,"labelLimit":400,"strokeColor":"#8c8c8c","fillColor":"#ffffff","padding":5,"rowPadding":4,"clipHeight":16}}}}
]},
{"spacing":0,
"hconcat":[
{"width":121,"height":20,"view":{"stroke":null},"data":{"values":[{}]},"mark":{"type":"point","opacity":0}},
{"width":230,"height":110,"data":{"name":"ts"},
"layer":[
{"data":{"name":"events"},"mark":{"type":"rule","color":"#555","strokeDash":[5,3],"strokeWidth":1},"encoding":{"x":{"field":"t","type":"quantitative","scale":{"domain":[-100,900],"nice":false,"zero":false},"axis":{"values":[0,400,800],"title":null,"labelPadding":8}}}},
{"data":{"name":"zero"},"mark":{"type":"rule","color":"#555","strokeWidth":1.2},"encoding":{"y":{"field":"v","type":"quantitative","scale":{"domain":[-8,13],"nice":false,"zero":false},"axis":{"values":[-5,10],"title":null,"labelPadding":7,"labelExpr":"datum.value"}}}},
{"mark":{"type":"line","color":"#333","strokeWidth":0.9,"interpolate":"monotone"},"encoding":{"x":{"field":"t","type":"quantitative","title":null},"y":{"field":"d1h","type":"quantitative","title":null}}},
{"mark":{"type":"line","color":"#333","strokeWidth":0.9,"interpolate":"monotone"},"encoding":{"x":{"field":"t","type":"quantitative","title":null},"y":{"field":"d1l","type":"quantitative","title":null}}},
{"mark":{"type":"line","color":"#000","strokeWidth":2.6,"interpolate":"monotone"},"encoding":{"x":{"field":"t","type":"quantitative","title":null},"y":{"field":"d1","type":"quantitative","title":null}}}
]}
]}
]},
{"spacing":18,
"resolve":{"scale":{"color":"independent"},"legend":{"color":"independent"}},
"vconcat":[
{"spacing":5,
"resolve":{"scale":{"color":"independent"},"legend":{"color":"independent"}},
"vconcat":[
{"width":230,"height":122,"view":{"stroke":null},
"layer":[
{"data":{"name":"topoC"},"transform":[{"flatten":["x","v"]}],"mark":{"type":"square","size":64,"filled":true,"opacity":1},
"encoding":{"x":{"field":"x","type":"quantitative","scale":{"domain":[-15.48,15.48],"nice":false,"zero":false},"axis":null},"y":{"field":"y","type":"quantitative","scale":{"domain":[-8.75,7.673],"nice":false,"zero":false},"axis":null},
"color":{"field":"v","type":"quantitative","scale":{"domain":[-2.8,-2.1,-0.7,0.7,2.1,2.8],"range":["#00007f","#0000ff","#00ffff","#ffff00","#ff0000","#7f0000"],"interpolate":"rgb"},
"legend":{"title":null,"orient":"none","legendX":184,"legendY":0,"direction":"vertical","gradientLength":113,"gradientThickness":10,"values":[-2,0,2],"labelFontSize":14,"labelFontWeight":"bold","labelColor":"#000","labelOffset":8,"labelExpr":"datum.value","labelOverlap":false,"gradientStrokeWidth":0}}}},
{"data":{"name":"head"},"mark":{"type":"point","shape":"circle","size":13924,"filled":false,"stroke":"#ffffff","strokeWidth":7,"opacity":1},"encoding":{"x":{"field":"x","type":"quantitative","axis":null},"y":{"field":"y","type":"quantitative","axis":null}}},
{"data":{"name":"head"},"mark":{"type":"point","shape":"circle","size":11449,"filled":false,"stroke":"#e6eef9","strokeWidth":5,"opacity":1},"encoding":{"x":{"field":"x","type":"quantitative","axis":null},"y":{"field":"y","type":"quantitative","axis":null}}},
{"data":{"name":"head"},"mark":{"type":"point","shape":"circle","size":5476,"filled":false,"stroke":"#000","strokeWidth":2.5,"opacity":1},"encoding":{"x":{"field":"x","type":"quantitative","axis":null},"y":{"field":"y","type":"quantitative","axis":null}}},
{"data":{"name":"nose"},"mark":{"type":"point","shape":"M -0.7 1 L 0 -0.6 L 0.7 1","size":100,"filled":false,"stroke":"#000","strokeWidth":2,"opacity":1},"encoding":{"x":{"field":"x","type":"quantitative","axis":null},"y":{"field":"y","type":"quantitative","axis":null}}},
{"data":{"name":"ears"},"mark":{"type":"point","shape":"M -0.25 -1 L 0.25 -1 L 0.25 1 L -0.25 1 Z","size":400,"filled":false,"stroke":"#000","strokeWidth":1.8,"opacity":1},"encoding":{"x":{"field":"x","type":"quantitative","axis":null},"y":{"field":"y","type":"quantitative","axis":null}}},
{"data":{"name":"elec"},"mark":{"type":"square","size":9,"filled":true,"color":"#000","opacity":1},"encoding":{"x":{"field":"x","type":"quantitative","axis":null},"y":{"field":"y","type":"quantitative","axis":null}}},
{"data":{"name":"labC"},"mark":{"type":"text","fontSize":17,"fontWeight":"bold","baseline":"alphabetic","align":"center","color":"#000"},"encoding":{"x":{"field":"x","type":"quantitative","axis":null},"y":{"field":"y","type":"quantitative","axis":null},"text":{"field":"label"}}}
]},
{"width":230,"height":146,"view":{"stroke":null},
"layer":[
{"data":{"name":"topoD"},"transform":[{"flatten":["x","v"]}],"mark":{"type":"square","size":64,"filled":true,"opacity":1},
"encoding":{"x":{"field":"x","type":"quantitative","scale":{"domain":[-15.48,15.48],"nice":false,"zero":false},"axis":null},"y":{"field":"y","type":"quantitative","scale":{"domain":[-11.98,7.673],"nice":false,"zero":false},"axis":null},
"color":{"field":"v","type":"quantitative","scale":{"domain":[-2.8,-2.1,-0.7,0.7,2.1,2.8],"range":["#00007f","#0000ff","#00ffff","#ffff00","#ff0000","#7f0000"],"interpolate":"rgb"},
"legend":{"title":null,"orient":"none","legendX":184,"legendY":2,"direction":"vertical","gradientLength":114,"gradientThickness":10,"values":[-2,0,2],"labelFontSize":14,"labelFontWeight":"bold","labelColor":"#000","labelOffset":8,"labelExpr":"datum.value","labelOverlap":false,"gradientStrokeWidth":0}}}},
{"data":{"name":"head"},"mark":{"type":"point","shape":"circle","size":13924,"filled":false,"stroke":"#ffffff","strokeWidth":7,"opacity":1},"encoding":{"x":{"field":"x","type":"quantitative","axis":null},"y":{"field":"y","type":"quantitative","axis":null}}},
{"data":{"name":"head"},"mark":{"type":"point","shape":"circle","size":11449,"filled":false,"stroke":"#e6eef9","strokeWidth":5,"opacity":1},"encoding":{"x":{"field":"x","type":"quantitative","axis":null},"y":{"field":"y","type":"quantitative","axis":null}}},
{"data":{"name":"head"},"mark":{"type":"point","shape":"circle","size":5476,"filled":false,"stroke":"#000","strokeWidth":2.5,"opacity":1},"encoding":{"x":{"field":"x","type":"quantitative","axis":null},"y":{"field":"y","type":"quantitative","axis":null}}},
{"data":{"name":"nose"},"mark":{"type":"point","shape":"M -0.7 1 L 0 -0.6 L 0.7 1","size":100,"filled":false,"stroke":"#000","strokeWidth":2,"opacity":1},"encoding":{"x":{"field":"x","type":"quantitative","axis":null},"y":{"field":"y","type":"quantitative","axis":null}}},
{"data":{"name":"ears"},"mark":{"type":"point","shape":"M -0.25 -1 L 0.25 -1 L 0.25 1 L -0.25 1 Z","size":400,"filled":false,"stroke":"#000","strokeWidth":1.8,"opacity":1},"encoding":{"x":{"field":"x","type":"quantitative","axis":null},"y":{"field":"y","type":"quantitative","axis":null}}},
{"data":{"name":"elec"},"mark":{"type":"square","size":9,"filled":true,"color":"#000","opacity":1},"encoding":{"x":{"field":"x","type":"quantitative","axis":null},"y":{"field":"y","type":"quantitative","axis":null}}},
{"data":{"name":"labD"},"mark":{"type":"text","fontSize":17,"fontWeight":"bold","baseline":"alphabetic","align":"center","color":"#000"},"encoding":{"x":{"field":"x","type":"quantitative","axis":null},"y":{"field":"y","type":"quantitative","axis":null},"text":{"field":"label"}}}
]}
]},
{"spacing":19,
"vconcat":[
{"width":230,"height":114,"data":{"name":"ts"},
"layer":[
{"data":{"name":"events"},"mark":{"type":"rule","color":"#555","strokeDash":[5,3],"strokeWidth":1},"encoding":{"x":{"field":"t","type":"quantitative","scale":{"domain":[-100,900],"nice":false,"zero":false},"axis":{"values":[0,400,800],"title":null,"labelPadding":8}}}},
{"data":{"name":"zero"},"mark":{"type":"rule","color":"#555","strokeWidth":1.2},"encoding":{"y":{"field":"v","type":"quantitative","scale":{"domain":[-8,14],"nice":false,"zero":false},"axis":{"values":[-5,10],"title":null,"labelPadding":7,"labelExpr":"datum.value"}}}},
{"mark":{"type":"line","color":"#ff3030","strokeWidth":1,"interpolate":"monotone"},"encoding":{"x":{"field":"t","type":"quantitative","title":null},"y":{"field":"e1h","type":"quantitative","title":null}}},
{"mark":{"type":"line","color":"#ff3030","strokeWidth":1,"interpolate":"monotone"},"encoding":{"x":{"field":"t","type":"quantitative","title":null},"y":{"field":"e1l","type":"quantitative","title":null}}},
{"mark":{"type":"line","color":"#ff0000","strokeWidth":2.6,"interpolate":"monotone"},"encoding":{"x":{"field":"t","type":"quantitative","title":null},"y":{"field":"e1","type":"quantitative","title":null}}}
]},
{"width":230,"height":114,"data":{"name":"ts"},
"layer":[
{"data":{"name":"events"},"mark":{"type":"rule","color":"#555","strokeDash":[5,3],"strokeWidth":1},"encoding":{"x":{"field":"t","type":"quantitative","scale":{"domain":[-100,900],"nice":false,"zero":false},"axis":{"values":[0,400,800],"title":null,"labelPadding":8}}}},
{"data":{"name":"zero"},"mark":{"type":"rule","color":"#555","strokeWidth":1.2},"encoding":{"y":{"field":"v","type":"quantitative","scale":{"domain":[-8,14],"nice":false,"zero":false},"axis":{"values":[-5,10],"title":null,"labelPadding":7,"labelExpr":"datum.value"}}}},
{"mark":{"type":"line","color":"#333","strokeWidth":0.9,"interpolate":"monotone"},"encoding":{"x":{"field":"t","type":"quantitative","title":null},"y":{"field":"d4h","type":"quantitative","title":null}}},
{"mark":{"type":"line","color":"#333","strokeWidth":0.9,"interpolate":"monotone"},"encoding":{"x":{"field":"t","type":"quantitative","title":null},"y":{"field":"d4l","type":"quantitative","title":null}}},
{"mark":{"type":"line","color":"#000","strokeWidth":2.6,"strokeDash":[7,4],"interpolate":"monotone"},"encoding":{"x":{"field":"t","type":"quantitative","title":null},"y":{"field":"d4","type":"quantitative","title":null}}}
]}
]}
]}
]
}
